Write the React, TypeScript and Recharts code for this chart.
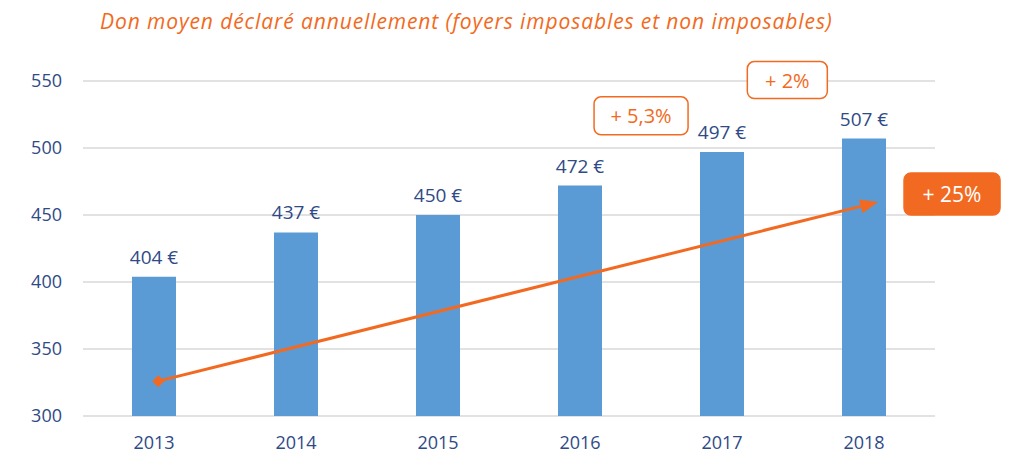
import React from 'react';
import { ComposedChart, Bar, XAxis, YAxis, CartesianGrid, LabelList, ReferenceLine, ReferenceDot } from 'recharts';

const years = ['2013', '2014', '2015', '2016', '2017', '2018'];
const donations = [404, 437, 450, 472, 497, 507];
const yTicks = [300, 350, 400, 450, 500, 550];
const title = 'Don moyen déclaré annuellement (foyers imposables et non imposables)';

// trend arrow endpoints (x in category index units, y in euros)
const arrowStart = { x: 0.03, y: 326 };
const arrowEnd = { x: 5.1, y: 459.7 };

// annotation boxes: centre position in index / value units
const notes = [
  { x: 3.43, y: 524, text: '+ 5,3%', filled: false, w: 94, h: 38, size: 20 },
  { x: 4.46, y: 550.7, text: '+ 2%', filled: false, w: 80, h: 37, size: 20 },
  { x: 5.62, y: 465.7, text: '+ 25%', filled: true, w: 96, h: 42, size: 21 },
];

const data = years.map((y, i) => ({ year: y, value: donations[i], idx: i }));

const ORANGE = '#F26A21';
const BLUE = '#5B9BD5';
const TEXT = '#2F4A86';
const FONT = '"Open Sans", "Noto Sans", sans-serif';

const ArrowShape = (props: any) => {
  const { x1, y1, x2, y2 } = props;
  if ([x1, y1, x2, y2].some((v) => v == null || isNaN(v))) return <g />;
  const ang = Math.atan2(y2 - y1, x2 - x1);
  const len = 18;
  const half = 7;
  const bx = x2 - len * Math.cos(ang);
  const by = y2 - len * Math.sin(ang);
  const px = -Math.sin(ang) * half;
  const py = Math.cos(ang) * half;
  const d = 6;
  return (
    <g>
      <line x1={x1} y1={y1} x2={bx} y2={by} stroke={ORANGE} strokeWidth={3} />
      <polygon points={`${x2},${y2} ${bx + px},${by + py} ${bx - px},${by - py}`} fill={ORANGE} />
      <polygon points={`${x1 - d},${y1} ${x1},${y1 - d} ${x1 + d},${y1} ${x1},${y1 + d}`} fill={ORANGE} />
    </g>
  );
};

const makeNote = (n: typeof notes[number]) => (props: any) => {
  const { cx, cy } = props;
  if (cx == null || cy == null) return <g />;
  return (
    <g>
      <rect
        x={cx - n.w / 2}
        y={cy - n.h / 2}
        width={n.w}
        height={n.h}
        rx={7}
        ry={7}
        fill={n.filled ? ORANGE : '#FFFFFF'}
        stroke={ORANGE}
        strokeWidth={1.5}
      />
      <text
        x={cx}
        y={cy}
        textAnchor="middle"
        dominantBaseline="central"
        fontSize={n.size}
        fontFamily={FONT}
        fill={n.filled ? '#FFFFFF' : ORANGE}
      >
        {n.text}
      </text>
    </g>
  );
};

export default function App() {
  return (
    <div style={{ position: 'relative', width: 1005, height: 448, background: '#fff' }}>
      <div
        style={{
          position: 'absolute',
          left: 92,
          top: 0,
          fontFamily: FONT,
          fontStyle: 'italic',
          fontSize: 21,
          letterSpacing: 0.9,
          color: ORANGE,
          whiteSpace: 'nowrap',
          lineHeight: '26px',
        }}
      >
        {title}
      </div>
      <ComposedChart
        width={1005}
        height={448}
        data={data}
        margin={{ top: 73, right: 78, bottom: 10, left: 0 }}
      >
        <CartesianGrid vertical={false} stroke="#D9D9D9" strokeWidth={1.5} />
        <XAxis
          dataKey="year"
          axisLine={false}
          tickLine={false}
          height={30}
          tickMargin={14}
          tick={{ fill: TEXT, fontSize: 18, fontFamily: FONT }}
        />
        <XAxis
          xAxisId="n"
          dataKey="idx"
          type="number"
          domain={[0, 5]}
          padding={{ left: 71, right: 71 }}
          hide
          allowDataOverflow
        />
        <YAxis
          domain={[300, 550]}
          ticks={yTicks}
          axisLine={false}
          tickLine={false}
          width={75}
          tickSize={0}
          tickMargin={21}
          tick={{ fill: TEXT, fontSize: 18, fontFamily: FONT }}
          allowDataOverflow
        />
        <Bar dataKey="value" fill={BLUE} barSize={44} isAnimationActive={false}>
          <LabelList
            dataKey="value"
            position="top"
            offset={13}
            formatter={(v: any) => `${v} €`}
            style={{ fill: TEXT, fontSize: 19, fontFamily: FONT }}
          />
        </Bar>
        <ReferenceLine
          xAxisId="n"
          segment={[arrowStart, arrowEnd]}
          ifOverflow="visible"
          shape={ArrowShape}
        />
        {notes.map((n, i) => (
          <ReferenceDot
            key={i}
            xAxisId="n"
            x={n.x}
            y={n.y}
            ifOverflow="visible"
            shape={makeNote(n)}
          />
        ))}
      </ComposedChart>
    </div>
  );
}
